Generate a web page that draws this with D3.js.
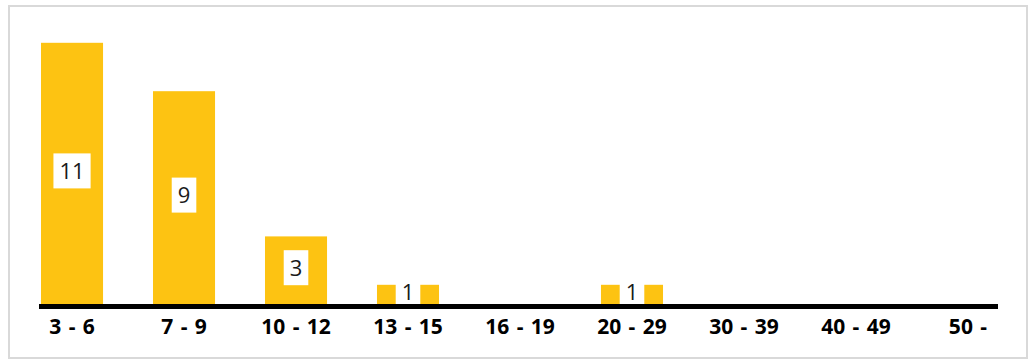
<!DOCTYPE html>
<html>
<head>
<meta charset="utf-8">
<script src="https://cdn.jsdelivr.net/npm/d3@7"></script>
<style>
  body { margin: 0; background: #fff; }
  svg { display: block; }
  .tick-label { font-family: "Open Sans", "Noto Sans", sans-serif; font-weight: bold; font-size: 21px; fill: #000; }
  .value-label { font-family: "Open Sans", "Noto Sans", sans-serif; font-size: 22px; fill: #1a1a1a; }
</style>
</head>
<body>
<script>
var categories = ['3 - 6', '7 - 9', '10 - 12', '13 - 15', '16 - 19', '20 - 29', '30 - 39', '40 - 49', '50 -'];
var counts = [11, 9, 3, 1, 0, 1, 0, 0, 0];

var width = 1028, height = 360;

var svg = d3.select('body').append('svg')
    .attr('width', width)
    .attr('height', height);

// card border
svg.append('rect')
    .attr('x', 9).attr('y', 6)
    .attr('width', 1018).attr('height', 352)
    .attr('fill', '#fff')
    .attr('stroke', '#d9d9d9')
    .attr('stroke-width', 2);

var x = d3.scaleBand()
    .domain(categories)
    .range([41, 999])
    .paddingInner(0.446)
    .paddingOuter(0);

var y = d3.scaleLinear()
    .domain([0, 11])
    .range([309, 42.8]);

var data = categories.map(function(c, i) { return {cat: c, value: counts[i]}; });

svg.append('g').attr('class', 'bars')
  .selectAll('rect')
    .data(data)
  .enter().append('rect')
    .attr('x', function(d) { return x(d.cat); })
    .attr('y', function(d) { return y(d.value); })
    .attr('width', x.bandwidth())
    .attr('height', function(d) { return y(0) - y(d.value); })
    .attr('fill', '#fdc312');

// value labels in white boxes
var labels = svg.append('g').attr('class', 'labels')
  .selectAll('g')
    .data(data.filter(function(d) { return d.value > 0; }))
  .enter().append('g')
    .attr('transform', function(d) {
      var cy = (y(d.value) + y(0)) / 2 - 5;
      return 'translate(' + (x(d.cat) + x.bandwidth() / 2) + ',' + cy + ')';
    });

labels.append('text')
    .attr('class', 'value-label')
    .attr('text-anchor', 'middle')
    .attr('dy', '0.36em')
    .text(function(d) { return d.value; });

labels.insert('rect', 'text')
    .attr('fill', '#fff')
    .each(function() {
      var t = d3.select(this.parentNode).select('text').node().getBBox();
      d3.select(this)
        .attr('x', t.x - 6)
        .attr('width', t.width + 12)
        .attr('y', -17.5)
        .attr('height', 35);
    });

// x axis
var xAxis = svg.append('g')
    .attr('transform', 'translate(0,' + 306.5 + ')')
    .call(d3.axisBottom(x).tickSize(0).tickPadding(0));

xAxis.select('.domain').remove();
xAxis.selectAll('text')
    .attr('class', 'tick-label')
    .attr('fill', null)
    .attr('y', 27)
    .attr('dy', 0)
    .style('word-spacing', '2px');

svg.append('line')
    .attr('x1', 39).attr('x2', 998)
    .attr('y1', 306.5).attr('y2', 306.5)
    .attr('stroke', '#000')
    .attr('stroke-width', 5);
</script>
</body>
</html>
